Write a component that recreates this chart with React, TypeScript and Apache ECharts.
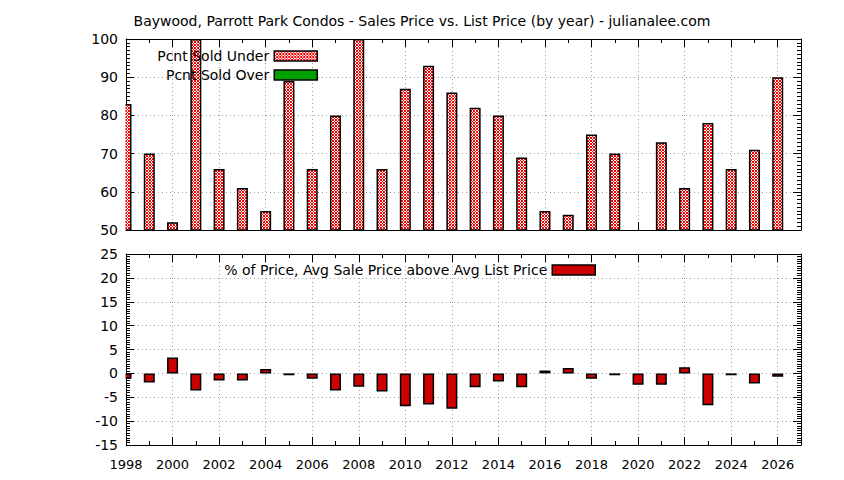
import { useEffect, useRef } from "react";
import * as echarts from "echarts";

// year axis
const years = [
  1998, 1999, 2000, 2001, 2002, 2003, 2004, 2005, 2006, 2007, 2008, 2009, 2010, 2011, 2012,
  2013, 2014, 2015, 2016, 2017, 2018, 2019, 2020, 2021, 2022, 2023, 2024, 2025, 2026,
];
const labelYears = [1998, 2000, 2002, 2004, 2006, 2008, 2010, 2012, 2014, 2016, 2018, 2020, 2022, 2024, 2026];
const minorYears = [1999, 2001, 2003, 2005, 2007, 2009, 2011, 2013, 2015, 2017, 2019, 2021, 2023, 2025];

// top panel: percent sold under list
const soldUnder = [
  83, 70, 52, 100, 66, 61, 55, 89, 66, 80, 100, 66, 87, 93, 86,
  82, 80, 69, 55, 54, 75, 70, null, 73, 61, 78, 66, 71, 90,
];
// no visible "sold over" bars
const soldOver: number[] = [];

// bottom panel: % avg sale price above avg list price
const pctAbove = [
  -1.1, -1.9, 3.3, -3.6, -1.5, -1.5, 0.9, -0.4, -1.1, -3.6, -2.8, -3.8, -6.9, -6.5, -7.4,
  -2.9, -1.7, -2.9, 0.6, 1.1, -1.1, -0.4, -2.4, -2.4, 1.3, -6.7, -0.4, -2.1, -0.7,
];

const TITLE = "Baywood, Parrott Park Condos - Sales Price vs. List Price (by year) - julianalee.com";
const UNDER = "Pcnt Sold Under";
const OVER = "Pcnt Sold Over";
const ABOVE = "% of Price, Avg Sale Price above Avg List Price";

const FONT = "DejaVu Sans";
const gridLine = { color: "#a0a0a0", width: 1, type: [1, 3] as number[] };
const black = { color: "#000", width: 1 };

const makeXAxes = (gridIndex: number, showLabels: boolean) => {
  const base = { type: "value" as const, gridIndex, min: 1998, max: 2027, interval: 1 };
  return [
    {
      ...base,
      position: "bottom" as const,
      axisLine: { show: true, onZero: false, lineStyle: black },
      axisTick: { show: true, inside: true, length: 8, customValues: labelYears, lineStyle: black },
      axisLabel: {
        show: showLabels,
        customValues: labelYears,
        formatter: (v: number) => String(v),
        margin: 13,
        color: "#000",
        fontFamily: FONT,
        fontSize: 13,
      },
      splitLine: { show: true, lineStyle: gridLine },
    },
    {
      ...base,
      position: "bottom" as const,
      axisLine: { show: false, onZero: false },
      axisTick: { show: true, inside: true, length: 4, customValues: minorYears, lineStyle: black },
      axisLabel: { show: false },
      splitLine: { show: false },
    },
    {
      ...base,
      position: "top" as const,
      axisLine: { show: true, onZero: false, lineStyle: black },
      axisTick: { show: true, inside: true, length: 8, customValues: labelYears, lineStyle: black },
      axisLabel: { show: false },
      splitLine: { show: false },
    },
    {
      ...base,
      position: "top" as const,
      axisLine: { show: false, onZero: false },
      axisTick: { show: true, inside: true, length: 4, customValues: minorYears, lineStyle: black },
      axisLabel: { show: false },
      splitLine: { show: false },
    },
  ];
};

const makeYAxes = (gridIndex: number, min: number, max: number, interval: number) => {
  const base = {
    type: "value" as const,
    gridIndex,
    min,
    max,
    interval,
    axisLine: { show: true, onZero: false, lineStyle: black },
    axisTick: { show: true, inside: true, length: 8, lineStyle: black },
    minorTick: { show: true, splitNumber: 10, length: 4, lineStyle: black },
  };
  return [
    {
      ...base,
      position: "left" as const,
      axisLabel: { margin: 8, color: "#000", fontFamily: FONT, fontSize: 14 },
      splitLine: { show: true, lineStyle: gridLine },
    },
    {
      ...base,
      position: "right" as const,
      axisLabel: { show: false },
      splitLine: { show: false },
    },
  ];
};

const legendBase = {
  orient: "vertical" as const,
  align: "right" as const,
  itemWidth: 43,
  itemHeight: 10,
  itemGap: 0,
  padding: 0,
  selectedMode: false,
  icon: "rect",
  itemStyle: { borderWidth: 1.5 },
  textStyle: { color: "#000", fontFamily: FONT, fontSize: 14, lineHeight: 16 },
};

const App = () => {
  const chartRef = useRef<HTMLDivElement>(null);

  useEffect(() => {
    if (!chartRef.current) {
      return;
    }
    const chart = echarts.init(chartRef.current, null, { renderer: "svg" });

    // red cross-hatch fill like gnuplot pattern
    const tile = document.createElement("canvas");
    tile.width = 3;
    tile.height = 3;
    const ctx = tile.getContext("2d")!;
    ctx.fillStyle = "#ffffff";
    ctx.fillRect(0, 0, 3, 3);
    ctx.fillStyle = "#ff0000";
    for (let i = 0; i < 3; i++) {
      ctx.fillRect(i, i, 1, 1);
      ctx.fillRect(i, 2 - i, 1, 1);
    }
    const hatch = { image: tile, repeat: "repeat", imageWidth: 3, imageHeight: 3 };

    const option = {
      animation: false,
      backgroundColor: "#ffffff",
      title: {
        text: TITLE,
        left: "center",
        top: 9,
        textStyle: { color: "#000", fontFamily: FONT, fontSize: 14, fontWeight: "normal" },
      },
      legend: [
        { ...legendBase, data: [UNDER], right: 526, top: 48 },
        { ...legendBase, data: [OVER], right: 526, top: 67 },
        { ...legendBase, data: [ABOVE], right: 248, top: 262 },
      ],
      grid: [
        { left: 126, right: 43, top: 39, height: 191 },
        { left: 126, right: 43, top: 254, height: 191 },
      ],
      // bars at the first year are cut at the frame, as in the source plot
      graphic: [
        {
          type: "rect",
          silent: true,
          z: 50,
          shape: { x: 119, y: 36, width: 6.5, height: 412 },
          style: { fill: "#ffffff" },
        },
      ],
      xAxis: [...makeXAxes(0, false), ...makeXAxes(1, true)],
      yAxis: [...makeYAxes(0, 50, 100, 10), ...makeYAxes(1, -15, 25, 5)],
      series: [
        {
          name: UNDER,
          type: "bar",
          xAxisIndex: 0,
          yAxisIndex: 0,
          barWidth: 11,
          clip: true,
          data: years.map((y, i) => [y, soldUnder[i]]),
          itemStyle: { color: hatch, borderColor: "#000", borderWidth: 1.5 },
        },
        {
          name: OVER,
          type: "bar",
          xAxisIndex: 2,
          yAxisIndex: 1,
          barWidth: 11,
          data: soldOver,
          itemStyle: { color: "#00a000", borderColor: "#000", borderWidth: 1.5 },
        },
        {
          name: ABOVE,
          type: "bar",
          xAxisIndex: 4,
          yAxisIndex: 2,
          barWidth: 11,
          clip: true,
          data: years.map((y, i) => [y, pctAbove[i]]),
          itemStyle: { color: "#cc0000", borderColor: "#000", borderWidth: 1.5 },
        },
      ],
    };

    chart.setOption(option as echarts.EChartsOption);

    return () => {
      chart.dispose();
    };
  }, []);

  return (
    <div
      ref={chartRef}
      style={{ position: "absolute", left: 0, top: 0, width: 844, height: 480, background: "#fff" }}
    />
  );
};

export default App;
